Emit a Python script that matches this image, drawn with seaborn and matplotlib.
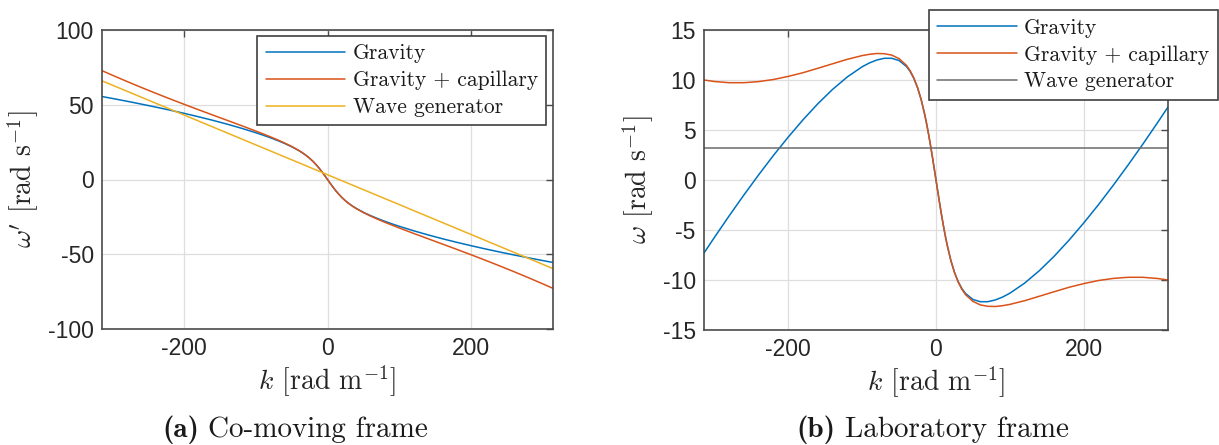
import matplotlib
matplotlib.use("Agg")
import matplotlib.pyplot as plt
import seaborn as sns
import pandas as pd

# ---- data ----
k = [-314, -300, -280, -260, -240, -220, -200, -180, -160, -140, -120, -100, -90, -80, -70, -60,
     -50, -40, -35, -30, -25, -20, -15, -12.5, -10, -7.5, -5, -2.5, 0, 2.5, 5, 7.5, 10, 12.5, 15,
     20, 25, 30, 35, 40, 50, 60, 70, 80, 90, 100, 120, 140, 160, 180, 200, 220, 240, 260, 280,
     300, 314]

comoving_gravity = [55.50, 54.25, 52.41, 50.50, 48.52, 46.46, 44.29, 42.02, 39.62, 37.06, 34.31,
                    31.32, 29.71, 28.00, 26.17, 24.17, 21.95, 19.35, 17.85, 16.16, 14.23, 12.01,
                    9.46, 8.05, 6.56, 4.99, 3.37, 1.69, 0.0, -1.69, -3.37, -4.99, -6.56, -8.05,
                    -9.46, -12.01, -14.23, -16.16, -17.85, -19.35, -21.95, -24.17, -26.17, -28.00,
                    -29.71, -31.32, -34.31, -37.06, -39.62, -42.02, -44.29, -46.46, -48.52,
                    -50.50, -52.41, -54.25, -55.50]

comoving_capillary = [72.80, 69.85, 65.73, 61.73, 57.84, 54.05, 50.36, 46.73, 43.17, 39.62, 36.07,
                      32.44, 30.57, 28.65, 26.63, 24.49, 22.14, 19.47, 17.93, 16.21, 14.26, 12.03,
                      9.46, 8.05, 6.56, 4.99, 3.37, 1.69, 0.0, -1.69, -3.37, -4.99, -6.56, -8.05,
                      -9.46, -12.03, -14.26, -16.21, -17.93, -19.47, -22.14, -24.49, -26.63,
                      -28.65, -30.57, -32.44, -36.07, -39.62, -43.17, -46.73, -50.36, -54.05,
                      -57.84, -61.73, -65.73, -69.85, -72.80]

lab_gravity = [-7.30, -5.75, -3.59, -1.50, 0.52, 2.46, 4.29, 6.02, 7.62, 9.06, 10.31, 11.32, 11.71,
               12.00, 12.17, 12.17, 11.95, 11.35, 10.85, 10.16, 9.23, 8.01, 6.46, 5.55, 4.56, 3.49,
               2.37, 1.19, 0.0, -1.19, -2.37, -3.49, -4.56, -5.55, -6.46, -8.01, -9.23, -10.16,
               -10.85, -11.35, -11.95, -12.17, -12.17, -12.00, -11.71, -11.32, -10.31, -9.06,
               -7.62, -6.02, -4.29, -2.46, -0.52, 1.50, 3.59, 5.75, 7.30]

lab_capillary = [10.00, 9.85, 9.73, 9.73, 9.84, 10.05, 10.36, 10.73, 11.17, 11.62, 12.07, 12.44,
                 12.57, 12.65, 12.63, 12.49, 12.14, 11.47, 10.93, 10.21, 9.26, 8.03, 6.46, 5.55,
                 4.56, 3.49, 2.37, 1.19, 0.0, -1.19, -2.37, -3.49, -4.56, -5.55, -6.46, -8.03,
                 -9.26, -10.21, -10.93, -11.47, -12.14, -12.49, -12.63, -12.65, -12.57, -12.44,
                 -12.07, -11.62, -11.17, -10.73, -10.36, -10.05, -9.84, -9.73, -9.73, -9.85,
                 -10.00]

wave_k = [-314, 314]
wave_comoving = [66.0, -59.6]
wave_lab = [3.2, 3.2]

labels = ["Gravity", "Gravity + capillary", "Wave generator"]
x_ticks = [-200, 0, 200]
y_ticks_a = [-100, -50, 0, 50, 100]
y_ticks_b = [-15, -10, -5, 0, 5, 10, 15]

# ---- style ----
sns.set_style("white")
plt.rcParams["font.family"] = ["Liberation Sans", "DejaVu Sans"]
plt.rcParams["mathtext.fontset"] = "cm"
plt.rcParams["axes.unicode_minus"] = False

BLUE, ORANGE, YELLOW, GREY = "#0072BD", "#D95319", "#EDB120", "#6b6b6b"
SERIF, SERIF_BOLD = "cmr10", "cmb10"

W, H = 1219, 445
fig = plt.figure(figsize=(W / 100, H / 100), dpi=100)
ax1 = fig.add_axes([102 / W, 1 - 329 / H, 451 / W, 299 / H])
ax2 = fig.add_axes([704 / W, 1 - 330 / H, 464 / W, 300 / H])

df_a = pd.DataFrame({"k": k, "g": comoving_gravity, "c": comoving_capillary})
df_b = pd.DataFrame({"k": k, "g": lab_gravity, "c": lab_capillary})
dw_a = pd.DataFrame({"k": wave_k, "w": wave_comoving})
dw_b = pd.DataFrame({"k": wave_k, "w": wave_lab})

lw = 1.1
sns.lineplot(data=df_a, x="k", y="g", ax=ax1, color=BLUE, lw=lw, label=labels[0])
sns.lineplot(data=df_a, x="k", y="c", ax=ax1, color=ORANGE, lw=lw, label=labels[1])
sns.lineplot(data=dw_a, x="k", y="w", ax=ax1, color=YELLOW, lw=lw, label=labels[2])

sns.lineplot(data=df_b, x="k", y="g", ax=ax2, color=BLUE, lw=lw, label=labels[0])
sns.lineplot(data=df_b, x="k", y="c", ax=ax2, color=ORANGE, lw=lw, label=labels[1])
sns.lineplot(data=dw_b, x="k", y="w", ax=ax2, color=GREY, lw=lw, label=labels[2])

for ax, yt, ylim in ((ax1, y_ticks_a, (-100, 100)), (ax2, y_ticks_b, (-15, 15))):
    ax.set_xlim(-314, 314)
    ax.set_ylim(*ylim)
    ax.set_xticks(x_ticks)
    ax.set_yticks(yt)
    ax.grid(True, color="#dedede", lw=0.9)
    ax.set_axisbelow(True)
    for s in ax.spines.values():
        s.set_color("#4a4a4a")
        s.set_linewidth(1.2)
        s.set_visible(True)
    ax.tick_params(direction="in", length=5, width=1.0, color="#4a4a4a",
                   top=True, right=True, labelsize=16.5, labelcolor="#262626", pad=6)
    ax.set_xlabel(r"$k$ [rad m$^{-1}$]", family=SERIF, size=20, color="#262626", labelpad=2)

ax1.set_ylabel(r"$\omega'$ [rad s$^{-1}$]", family=SERIF, size=20, color="#262626", labelpad=5)
ax2.set_ylabel(r"$\omega$ [rad s$^{-1}$]", family=SERIF, size=20, color="#262626", labelpad=5)

leg_kw = dict(loc="upper right", bbox_transform=fig.transFigure, borderaxespad=0,
              frameon=True, fancybox=False, framealpha=1, edgecolor="#404040",
              prop={"family": SERIF, "size": 15.5}, handlelength=3.7, handletextpad=0.35,
              labelspacing=0.34, borderpad=0.38)
l1 = ax1.legend(bbox_to_anchor=(546 / W, 1 - 35.7 / H), **leg_kw)
l2 = ax2.legend(bbox_to_anchor=(1217.5 / W, 1 - 10 / H), **leg_kw)
for lg in (l1, l2):
    lg.get_frame().set_linewidth(1.2)
    for t in lg.get_texts():
        t.set_color("#1a1a1a")

cap_y = 1 - 430 / H
fig.text(199 / W, cap_y, "(a)", family=SERIF_BOLD, size=21, ha="right", va="center",
         color="#1a1a1a")
fig.text(208 / W, cap_y, "Co-moving frame", family=SERIF, size=21, ha="left", va="center",
         color="#1a1a1a")
fig.text(835 / W, cap_y, "(b)", family=SERIF_BOLD, size=21, ha="right", va="center",
         color="#1a1a1a")
fig.text(845 / W, cap_y, "Laboratory frame", family=SERIF, size=21, ha="left", va="center",
         color="#1a1a1a")

fig.savefig("out.png", dpi=100)
